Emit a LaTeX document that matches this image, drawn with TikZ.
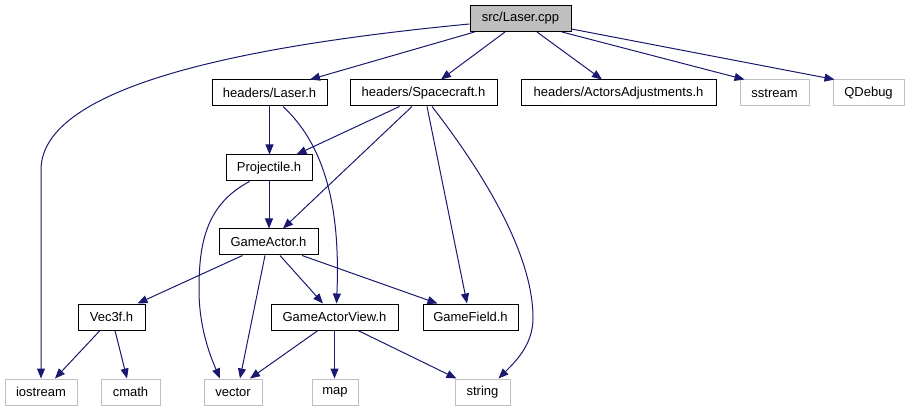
\documentclass[tikz,border=0pt]{standalone}
\usepackage{fontspec}
\setmainfont{Liberation Sans}
\usetikzlibrary{arrows.meta}
\definecolor{edgeblue}{HTML}{191970}
\definecolor{extgray}{HTML}{BFBFBF}
\begin{document}
\begin{tikzpicture}[x=1pt,y=-1pt,
  box/.style={draw=black,line width=1pt,inner sep=0pt,minimum height=26pt,font=\fontsize{13}{15}\selectfont,text=black},
  extbox/.style={box,draw=extgray},
  rootbox/.style={box,fill=extgray},
  dep/.style={draw=edgeblue,line width=1pt,-{Triangle[length=10pt,width=8pt]},color=edgeblue}]
\useasboundingbox (0,0) rectangle (909,411);
\node[rootbox,minimum width=101pt] (cpp) at (520.5,18.5) {src/Laser.cpp};
\node[box,minimum width=115pt] (laserh) at (269.5,93) {headers/Laser.h};
\node[box,minimum width=147pt] (spacecraft) at (423.5,93) {headers/Spacecraft.h};
\node[box,minimum width=195pt] (actors) at (618.5,93) {headers/ActorsAdjustments.h};
\node[extbox,minimum width=69pt] (sstream) at (774.5,93) {sstream};
\node[extbox,minimum width=71pt] (qdebug) at (868.5,93) {QDebug};
\node[box,minimum width=86pt] (projectile) at (269,168) {Projectile.h};
\node[box,minimum width=99pt] (gameactor) at (268.5,242) {GameActor.h};
\node[box,minimum width=67pt] (vec3f) at (111.5,317) {Vec3f.h};
\node[box,minimum width=127pt] (gav) at (334.5,317) {GameActorView.h};
\node[box,minimum width=95pt] (gamefield) at (470.5,317) {GameField.h};
\node[extbox,minimum width=72pt] (iostream) at (41,392) {iostream};
\node[extbox,minimum width=59pt] (cmath) at (130.5,392) {cmath};
\node[extbox,minimum width=58pt] (vector) at (233,392) {vector};
\node[extbox,minimum width=46pt] (map) at (335,392) {map};
\node[extbox,minimum width=55pt] (string) at (482.5,392) {string};
% from src/Laser.cpp
\draw[dep] ([yshift=-5.5pt]cpp.west) .. controls (250,45) and (41,85) .. (41,170) -- (iostream.north);
\draw[dep] ([xshift=5pt]cpp.south west) -- ([xshift=40.5pt]laserh.north);
\draw[dep] ([xshift=-15.5pt]cpp.south) -- ([xshift=17.5pt]spacecraft.north);
\draw[dep] ([xshift=16.5pt]cpp.south) -- ([xshift=-16.5pt]actors.north);
\draw[dep] ([xshift=41.5pt]cpp.south) -- ([xshift=5pt]sstream.north west);
\draw[dep] ([yshift=3pt]cpp.south east) -- ([xshift=2pt]qdebug.north west);
% from headers/Laser.h
\draw[dep] (laserh.south) -- (laserh.south |- projectile.north);
\draw[dep] ([xshift=13.5pt]laserh.south) .. controls (330,150) and (340,220) .. ([xshift=2pt]gav.north);
% from headers/Spacecraft.h
\draw[dep] ([xshift=50pt]spacecraft.south west) -- ([xshift=-16pt]projectile.north east);
\draw[dep] ([xshift=-11.5pt]spacecraft.south) -- ([xshift=14.5pt]gameactor.north);
\draw[dep] ([xshift=3.5pt]spacecraft.south) -- ([xshift=-3.5pt]gamefield.north);
\draw[dep] ([xshift=8.5pt]spacecraft.south) .. controls (485,175) and (533,255) .. (533,318) .. controls (533,345) and (515,362) .. ([xshift=-12pt]string.north east);
% from Projectile.h
\draw[dep] (projectile.south) -- (projectile.south |- gameactor.north);
\draw[dep] ([xshift=24pt]projectile.south west) .. controls (205,205) and (199,245) .. (199,290) .. controls (199,330) and (212,360) .. ([xshift=-13pt]vector.north);
% from GameActor.h
\draw[dep] ([xshift=24pt]gameactor.south west) -- ([xshift=-8pt]vec3f.north east);
\draw[dep] ([xshift=-3.5pt]gameactor.south) -- ([xshift=7pt]vector.north);
\draw[dep] ([xshift=11.5pt]gameactor.south) -- ([xshift=-11.5pt]gav.north);
\draw[dep] ([xshift=33.5pt]gameactor.south) -- ([xshift=15pt]gamefield.north west);
% from Vec3f.h
\draw[dep] ([xshift=-11.5pt]vec3f.south) -- ([xshift=14pt]iostream.north);
\draw[dep] ([xshift=3.5pt]vec3f.south) -- ([xshift=-3.5pt]cmath.north);
% from GameActorView.h
\draw[dep] ([xshift=-16.5pt]gav.south) -- ([xshift=17pt]vector.north);
\draw[dep] (gav.south) -- (gav.south |- map.north);
\draw[dep] ([xshift=23.5pt]gav.south) -- ([xshift=2pt]string.north west);
\end{tikzpicture}
\end{document}
